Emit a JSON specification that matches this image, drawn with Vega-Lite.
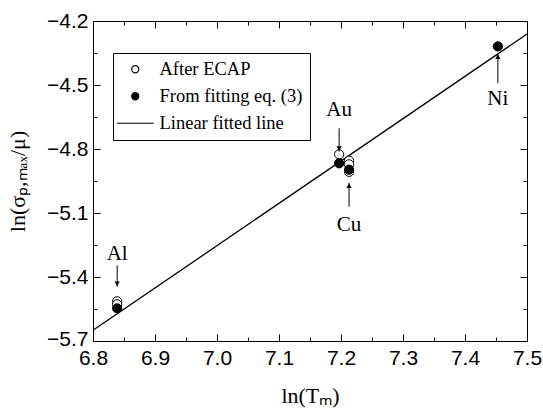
{
  "$schema": "https://vega.github.io/schema/vega-lite/v6.json",
  "width": 434,
  "height": 320,
  "autosize": {"type": "none"},
  "padding": {"left": 93, "top": 21, "right": 16, "bottom": 67},
  "background": "white",
  "config": {
    "view": {"stroke": "black", "strokeWidth": 1},
    "axis": {
      "domainColor": "black", "tickColor": "black", "labelColor": "black", "titleColor": "black",
      "grid": false, "labelFont": "Liberation Sans", "labelFontSize": 21,
      "titleFont": "Liberation Serif", "titleFontSize": 22, "titleFontWeight": "normal"
    }
  },
  "datasets": {
    "fit": [
      {"lnTm": 6.8, "lnS": -5.65},
      {"lnTm": 7.5, "lnS": -4.261}
    ],
    "pts": [
      {"metal": "Al", "series": "After ECAP", "lnTm": 6.839, "lnS": -5.514},
      {"metal": "Al", "series": "After ECAP", "lnTm": 6.839, "lnS": -5.528},
      {"metal": "Au", "series": "After ECAP", "lnTm": 7.197, "lnS": -4.825},
      {"metal": "Cu", "series": "After ECAP", "lnTm": 7.213, "lnS": -4.855},
      {"metal": "Cu", "series": "After ECAP", "lnTm": 7.213, "lnS": -4.872},
      {"metal": "Cu", "series": "After ECAP", "lnTm": 7.213, "lnS": -4.907},
      {"metal": "Al", "series": "From fitting eq. (3)", "lnTm": 6.839, "lnS": -5.547},
      {"metal": "Au", "series": "From fitting eq. (3)", "lnTm": 7.197, "lnS": -4.867},
      {"metal": "Cu", "series": "From fitting eq. (3)", "lnTm": 7.213, "lnS": -4.897},
      {"metal": "Ni", "series": "From fitting eq. (3)", "lnTm": 7.453, "lnS": -4.319}
    ],
    "notes": [
      {"metal": "Al", "dir": "down", "lnTm": 6.839, "text": -5.29, "tail": -5.345, "tip": -5.446},
      {"metal": "Au", "dir": "down", "lnTm": 7.197, "text": -4.617, "tail": -4.703, "tip": -4.812},
      {"metal": "Cu", "dir": "up", "lnTm": 7.213, "text": -5.157, "tail": -5.07, "tip": -4.958},
      {"metal": "Ni", "dir": "up", "lnTm": 7.453, "text": -4.566, "tail": -4.491, "tip": -4.353}
    ]
  },
  "resolve": {"axis": {"x": "independent", "y": "independent"}},
  "layer": [
    {
      "data": {"name": "fit"},
      "mark": {"type": "line", "color": "black", "strokeWidth": 1.3, "clip": true},
      "encoding": {
        "x": {"field": "lnTm", "type": "quantitative",
          "scale": {"domain": [6.8, 7.5], "nice": false, "zero": false},
          "axis": {"orient": "bottom", "title": "ln(Tₘ)", "values": [6.8, 6.9, 7.0, 7.1, 7.2, 7.3, 7.4, 7.5],
            "format": ".1f", "tickSize": -7, "labelPadding": 13, "titlePadding": 17, "labelFlush": false}},
        "y": {"field": "lnS", "type": "quantitative",
          "scale": {"domain": [-5.7, -4.2], "nice": false, "zero": false},
          "axis": {"orient": "left", "title": "ln(σₚ,ₘₐₓ/μ)", "values": [-5.7, -5.4, -5.1, -4.8, -4.5, -4.2],
            "format": ".1f", "tickSize": -7, "labelPadding": 12, "titlePadding": 17, "labelFlush": false,
            "labelOffset": {"condition": {"test": "datum.value < -5.65", "value": -2}, "value": 0}}}
      }
    },
    {
      "data": {"name": "pts"},
      "mark": {"type": "point", "filled": true, "stroke": "black", "strokeWidth": 1, "opacity": 1, "size": 85},
      "encoding": {
        "x": {"field": "lnTm", "type": "quantitative",
          "axis": {"orient": "top", "title": null, "labels": false, "values": [6.8, 6.9, 7.0, 7.1, 7.2, 7.3, 7.4, 7.5], "tickSize": -7}},
        "y": {"field": "lnS", "type": "quantitative",
          "axis": {"orient": "right", "title": null, "labels": false, "values": [-5.7, -5.4, -5.1, -4.8, -4.5, -4.2], "tickSize": -7}},
        "fill": {"field": "series", "type": "nominal",
          "scale": {"domain": ["After ECAP", "From fitting eq. (3)", "Linear fitted line"], "range": ["white", "black", "black"]},
          "legend": {"title": null, "orient": "none", "legendX": 20, "legendY": 32,
            "strokeColor": "black", "padding": 7, "rowPadding": 8, "labelOffset": 15, "symbolOffset": 6,
            "labelFont": "Liberation Serif", "labelFontSize": 18.5, "labelColor": "black",
            "symbolSize": 50, "symbolStrokeColor": "black", "symbolStrokeWidth": 1.2, "fillColor": "white"}},
        "shape": {"field": "series", "type": "nominal",
          "scale": {"domain": ["After ECAP", "From fitting eq. (3)", "Linear fitted line"], "range": ["circle", "circle", "M-5.2,0L5.2,0"]}},
        "order": {"field": "series", "sort": "ascending"}
      }
    },
    {
      "data": {"name": "notes"},
      "mark": {"type": "rule", "color": "black", "strokeWidth": 1},
      "encoding": {
        "x": {"field": "lnTm", "type": "quantitative",
          "axis": {"orient": "bottom", "title": null, "labels": false, "domain": false,
            "values": [6.85, 6.95, 7.05, 7.15, 7.25, 7.35, 7.45], "tickSize": -4}},
        "y": {"field": "tail", "type": "quantitative",
          "axis": {"orient": "left", "title": null, "labels": false, "domain": false,
            "values": [-5.55, -5.25, -4.95, -4.65, -4.35], "tickSize": -4}},
        "y2": {"field": "tip"}
      }
    },
    {
      "data": {"name": "notes"},
      "transform": [{"filter": "datum.dir == 'down'"}],
      "mark": {"type": "point", "shape": "triangle-down", "filled": true, "color": "black", "size": 28, "yOffset": -3, "opacity": 1},
      "encoding": {
        "x": {"field": "lnTm", "type": "quantitative",
          "axis": {"orient": "top", "title": null, "labels": false, "domain": false,
            "values": [6.85, 6.95, 7.05, 7.15, 7.25, 7.35, 7.45], "tickSize": -4}},
        "y": {"field": "tip", "type": "quantitative",
          "axis": {"orient": "right", "title": null, "labels": false, "domain": false,
            "values": [-5.55, -5.25, -4.95, -4.65, -4.35], "tickSize": -4}}
      }
    },
    {
      "data": {"name": "notes"},
      "transform": [{"filter": "datum.dir == 'up'"}],
      "mark": {"type": "point", "shape": "triangle-up", "filled": true, "color": "black", "size": 28, "yOffset": 3, "opacity": 1},
      "encoding": {
        "x": {"field": "lnTm", "type": "quantitative", "axis": null},
        "y": {"field": "tip", "type": "quantitative", "axis": null}
      }
    },
    {
      "data": {"name": "notes"},
      "mark": {"type": "text", "font": "Liberation Serif", "fontSize": 21, "color": "black", "baseline": "middle", "align": "center"},
      "encoding": {
        "x": {"field": "lnTm", "type": "quantitative", "axis": null},
        "y": {"field": "text", "type": "quantitative", "axis": null},
        "text": {"field": "metal"}
      }
    }
  ]
}
